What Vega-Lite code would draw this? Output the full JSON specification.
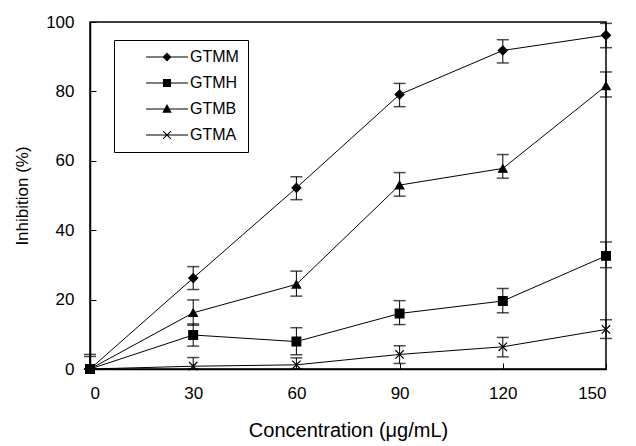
{
  "$schema": "https://vega.github.io/schema/vega-lite/v6.json",
  "width": 516,
  "height": 347,
  "autosize": "none",
  "padding": {"left": 90, "top": 22, "right": 30, "bottom": 77},
  "background": "white",
  "data": {
    "values": [
      {"series": "GTMM", "conc": 0, "inh": 0, "lo": 0, "hi": 3.6},
      {"series": "GTMM", "conc": 30, "inh": 26.2, "lo": 22.9, "hi": 29.5},
      {"series": "GTMM", "conc": 60, "inh": 52.2, "lo": 48.8, "hi": 55.4},
      {"series": "GTMM", "conc": 90, "inh": 79.1, "lo": 75.6, "hi": 82.3},
      {"series": "GTMM", "conc": 120, "inh": 91.8, "lo": 88.2, "hi": 94.9},
      {"series": "GTMM", "conc": 150, "inh": 96.2, "lo": 92.6, "hi": 99.6},
      {"series": "GTMH", "conc": 0, "inh": 0, "lo": 0, "hi": 4.2},
      {"series": "GTMH", "conc": 30, "inh": 9.8, "lo": 6.6, "hi": 13.0},
      {"series": "GTMH", "conc": 60, "inh": 7.9, "lo": 4.1, "hi": 11.9},
      {"series": "GTMH", "conc": 90, "inh": 16.0, "lo": 12.8, "hi": 19.7},
      {"series": "GTMH", "conc": 120, "inh": 19.6, "lo": 16.2, "hi": 23.2},
      {"series": "GTMH", "conc": 150, "inh": 32.6, "lo": 29.2, "hi": 36.6},
      {"series": "GTMB", "conc": 0, "inh": 0, "lo": 0, "hi": 0},
      {"series": "GTMB", "conc": 30, "inh": 16.2, "lo": 12.6, "hi": 19.9},
      {"series": "GTMB", "conc": 60, "inh": 24.4, "lo": 21.0, "hi": 28.2},
      {"series": "GTMB", "conc": 90, "inh": 53.0, "lo": 49.8, "hi": 56.6},
      {"series": "GTMB", "conc": 120, "inh": 57.8, "lo": 55.0, "hi": 61.8},
      {"series": "GTMB", "conc": 150, "inh": 81.6, "lo": 78.4, "hi": 85.6},
      {"series": "GTMA", "conc": 0, "inh": 0, "lo": 0, "hi": 0},
      {"series": "GTMA", "conc": 30, "inh": 0.8, "lo": 0, "hi": 3.3},
      {"series": "GTMA", "conc": 60, "inh": 1.2, "lo": 0, "hi": 3.2},
      {"series": "GTMA", "conc": 90, "inh": 4.2, "lo": 1.6, "hi": 6.7},
      {"series": "GTMA", "conc": 120, "inh": 6.4, "lo": 3.5, "hi": 9.1},
      {"series": "GTMA", "conc": 150, "inh": 11.4, "lo": 8.8, "hi": 14.2}
    ]
  },
  "encoding": {
    "x": {
      "field": "conc", "type": "quantitative",
      "scale": {"domain": [0, 150], "nice": false},
      "axis": {
        "values": [0, 30, 60, 90, 120, 150],
        "title": "Concentration (μg/mL)",
        "titleFontSize": 20,
        "grid": false,
        "tickSize": -6,
        "labelPadding": 22,
        "titlePadding": 19
      }
    }
  },
  "layer": [
    {
      "mark": {"type": "line", "color": "black", "strokeWidth": 1},
      "encoding": {
        "y": {
          "field": "inh", "type": "quantitative",
          "scale": {"domain": [0, 100], "nice": false},
          "title": "Inhibition (%)",
          "axis": {
            "values": [0, 20, 40, 60, 80, 100],
            "title": "Inhibition (%)",
            "grid": false,
            "tickSize": -6,
            "labelPadding": 22,
            "titlePadding": 14
          }
        },
        "detail": {"field": "series"}
      }
    },
    {
      "mark": {"type": "errorbar", "color": "black", "thickness": 1, "ticks": {"size": 12, "thickness": 1.5, "color": "black"}},
      "encoding": {
        "y": {"field": "lo", "type": "quantitative", "title": "Inhibition (%)"},
        "y2": {"field": "hi"},
        "detail": {"field": "series"}
      }
    },
    {
      "mark": {"type": "point", "filled": true, "fill": "black", "stroke": "black", "strokeWidth": 1.2, "opacity": 1},
      "encoding": {
        "y": {"field": "inh", "type": "quantitative", "title": "Inhibition (%)"},
        "shape": {
          "field": "series", "type": "nominal",
          "scale": {"domain": ["GTMM", "GTMH", "GTMB", "GTMA"], "range": ["diamond", "square", "triangle-up", "M-1,-1L1,1M-1,1L1,-1"]},
          "legend": null
        },
        "size": {
          "field": "series", "type": "nominal",
          "scale": {"domain": ["GTMM", "GTMH", "GTMB", "GTMA"], "range": [80, 70, 90, 55]},
          "legend": null
        }
      }
    },
    {
      "mark": {"type": "point", "filled": true, "fill": "black", "stroke": "black", "strokeWidth": 1, "size": 0, "opacity": 1},
      "encoding": {
        "y": {"field": "inh", "type": "quantitative", "title": "Inhibition (%)"},
        "shape": {
          "field": "series", "type": "nominal",
          "scale": {"domain": ["GTMM", "GTMH", "GTMB", "GTMA"], "range": [
            "M-4.2,-0.11H4.2V0.11H-4.2ZM0,-0.9L0.9,0L0,0.9L-0.9,0Z",
            "M-4.2,-0.11H4.2V0.11H-4.2ZM-0.8,-0.8H0.8V0.8H-0.8Z",
            "M-4.2,-0.11H4.2V0.11H-4.2ZM0,-1L0.95,0.75L-0.95,0.75Z",
            "M-4.2,-0.11H4.2V0.11H-4.2ZM-0.86,-0.72L-0.72,-0.86L0.86,0.72L0.72,0.86ZM-0.86,0.72L0.72,-0.86L0.86,-0.72L-0.72,0.86Z"
          ]},
          "legend": {
            "title": null,
            "orient": "none",
            "legendX": 24,
            "legendY": 18,
            "symbolSize": 100,
            "symbolOpacity": 1,
            "symbolFillColor": "black",
            "symbolStrokeColor": "black",
            "symbolStrokeWidth": 0,
            "symbolOffset": 36,
            "labelOffset": 15,
            "labelFont": "Liberation Sans",
            "labelFontSize": 16,
            "labelColor": "black",
            "labelExpr": "datum.label + '             '",
            "rowPadding": 10,
            "padding": 9,
            "strokeColor": "black",
            "fillColor": "white"
          }
        }
      }
    }
  ],
  "resolve": {"scale": {"shape": "independent"}},
  "config": {
    "view": {"stroke": "black", "strokeWidth": 1.5},
    "axis": {
      "domainColor": "black",
      "tickColor": "black",
      "labelColor": "black",
      "titleColor": "black",
      "labelFont": "Liberation Sans",
      "titleFont": "Liberation Sans",
      "labelFontSize": 17,
      "titleFontSize": 17,
      "titleFontWeight": "normal",
      "domainWidth": 1.5
    }
  }
}
